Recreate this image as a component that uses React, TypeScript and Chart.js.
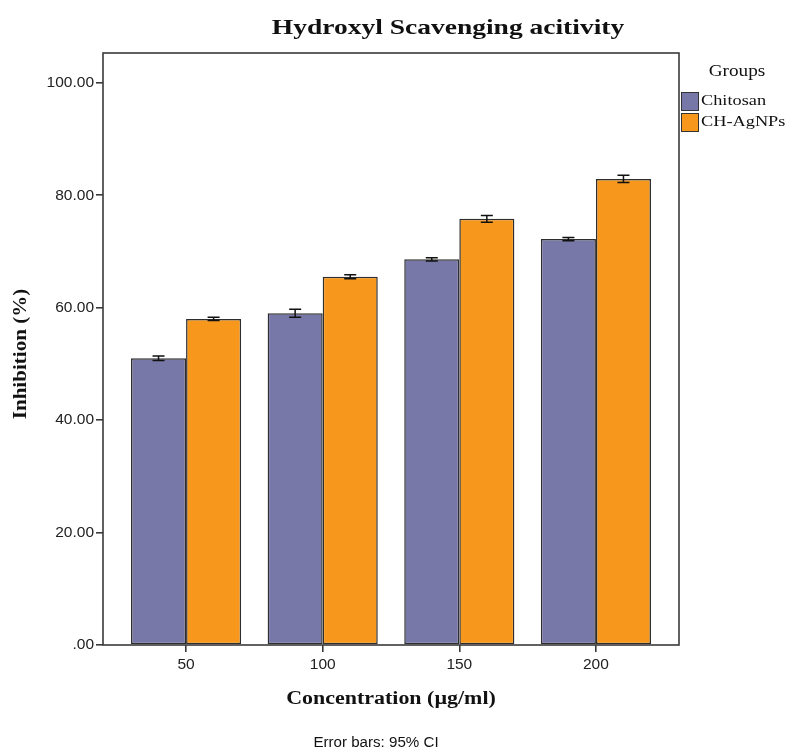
import React, { useEffect, useRef } from 'react';
import { Chart, registerables } from 'chart.js';

Chart.register(...registerables);

const categories = [50, 100, 150, 200];
const seriesNames = ['Chitosan', 'CH-AgNPs'];
const chitosan = [51.0, 59.0, 68.6, 72.2];
const chitosanCI = [0.4, 0.7, 0.3, 0.3];
const agnps = [58.0, 65.5, 75.8, 82.9];
const agnpsCI = [0.3, 0.35, 0.6, 0.65];
const yTickValues = [0, 20, 40, 60, 80, 100];
const seriesColors = ['#7878a8', '#f7981d'];

const titleText = 'Hydroxyl Scavenging acitivity';
const xTitle = 'Concentration (\u00b5g/ml)';
const yTitle = 'Inhibition (%)';
const legendTitle = 'Groups';
const footnote = 'Error bars: 95% CI';

const ciSets = [chitosanCI, agnpsCI];
const valueSets = [chitosan, agnps];

function stretchedText(ctx: CanvasRenderingContext2D, text: string, x: number, y: number, font: string, align: CanvasTextAlign, sx: number, rotate = 0) {
  ctx.save();
  ctx.translate(x, y);
  if (rotate) ctx.rotate(rotate);
  ctx.scale(sx, 1);
  ctx.font = font;
  ctx.textAlign = align;
  ctx.textBaseline = 'middle';
  ctx.fillStyle = '#111';
  ctx.fillText(text, 0, 0);
  ctx.restore();
}

const decorPlugin = {
  id: 'decor',
  afterDatasetsDraw(chart: any) {
    const ctx: CanvasRenderingContext2D = chart.ctx;
    const y = chart.scales.y;
    valueSets.forEach((vals, di) => {
      const meta = chart.getDatasetMeta(di);
      meta.data.forEach((bar: any, j: number) => {
        const top = y.getPixelForValue(vals[j] + ciSets[di][j]);
        const bot = y.getPixelForValue(vals[j] - ciSets[di][j]);
        ctx.save();
        ctx.strokeStyle = '#111';
        ctx.lineWidth = 1.5;
        ctx.beginPath();
        ctx.moveTo(bar.x, top);
        ctx.lineTo(bar.x, bot);
        ctx.moveTo(bar.x - 6, top);
        ctx.lineTo(bar.x + 6, top);
        ctx.moveTo(bar.x - 6, bot);
        ctx.lineTo(bar.x + 6, bot);
        ctx.stroke();
        ctx.restore();
      });
    });
    const a = chart.chartArea;
    ctx.save();
    ctx.strokeStyle = '#3a3a3a';
    ctx.lineWidth = 1.6;
    ctx.strokeRect(a.left, a.top, a.right - a.left, a.bottom - a.top);
    ctx.restore();
  },
  afterDraw(chart: any) {
    const ctx: CanvasRenderingContext2D = chart.ctx;
    const a = chart.chartArea;
    const cx = (a.left + a.right) / 2;
    stretchedText(ctx, titleText, 448, 28, 'bold 22px "Liberation Serif"', 'center', 1.25);
    stretchedText(ctx, xTitle, cx, 699, 'bold 18px "Liberation Serif"', 'center', 1.22);
    stretchedText(ctx, yTitle, 21, 354, 'bold 18px "Liberation Serif"', 'center', 1.17, -Math.PI / 2);
    stretchedText(ctx, footnote, 376, 743, '14px "Liberation Sans"', 'center', 1.08);
    stretchedText(ctx, legendTitle, 737, 72, '16px "Liberation Serif"', 'center', 1.2);
    seriesNames.forEach((name, i) => {
      const by = 92 + i * 21;
      ctx.save();
      ctx.fillStyle = seriesColors[i];
      ctx.fillRect(a.right + 2, by, 17, 18);
      ctx.strokeStyle = '#333';
      ctx.lineWidth = 1;
      ctx.strokeRect(a.right + 2.5, by + 0.5, 17, 18);
      ctx.restore();
      stretchedText(ctx, name, a.right + 22, by + 9.5, '15px "Liberation Serif"', 'left', 1.22);
    });
  },
};

export default function App() {
  const ref = useRef<HTMLCanvasElement>(null);
  useEffect(() => {
    if (!ref.current) return;
    const chart = new Chart(ref.current, {
      type: 'bar',
      data: {
        datasets: seriesNames.map((name, i) => ({
          label: name,
          data: categories.map((c, j) => ({ x: c, y: valueSets[i][j] })),
          backgroundColor: seriesColors[i],
          borderColor: '#2e2e2e',
          borderWidth: 1.5,
          borderSkipped: false,
          categoryPercentage: 0.806,
          barPercentage: 1.0,
        })),
      },
      options: {
        responsive: false,
        animation: false,
        devicePixelRatio: 1,
        layout: { padding: { left: 0, right: 113, top: 53, bottom: 0 } },
        plugins: { legend: { display: false }, title: { display: false }, tooltip: { enabled: false } },
        scales: {
          x: {
            type: 'linear',
            min: 19.6,
            max: 230.4,
            offset: false,
            afterBuildTicks: (s: any) => { s.ticks = categories.map((v) => ({ value: v })); },
            afterFit: (s: any) => { s.height = 108; },
            border: { display: false },
            grid: { display: true, offset: false, drawOnChartArea: false, drawTicks: true, tickLength: 7, color: '#3a3a3a', lineWidth: 1.6 },
            ticks: { color: '#222', font: { family: '"Liberation Sans", Arial', size: 15.5 }, padding: 3, callback: (v: any) => String(v) },
          },
          y: {
            min: 0,
            max: 105.3,
            afterBuildTicks: (s: any) => { s.ticks = yTickValues.map((v) => ({ value: v })); },
            afterFit: (s: any) => { s.width = 103; },
            border: { display: false },
            grid: { display: true, offset: false, drawOnChartArea: false, drawTicks: true, tickLength: 7, color: '#3a3a3a', lineWidth: 1.6 },
            ticks: { color: '#222', font: { family: '"Liberation Sans", Arial', size: 15.5 }, padding: 2, callback: (v: any) => (v === 0 ? '.00' : Number(v).toFixed(2)) },
          },
        },
      },
      plugins: [decorPlugin],
    } as any);
    return () => chart.destroy();
  }, []);
  return (
    <div style={{ position: 'absolute', left: 0, top: 0, width: 792, height: 753, background: '#fff' }}>
      <canvas ref={ref} width={792} height={753} />
    </div>
  );
}
